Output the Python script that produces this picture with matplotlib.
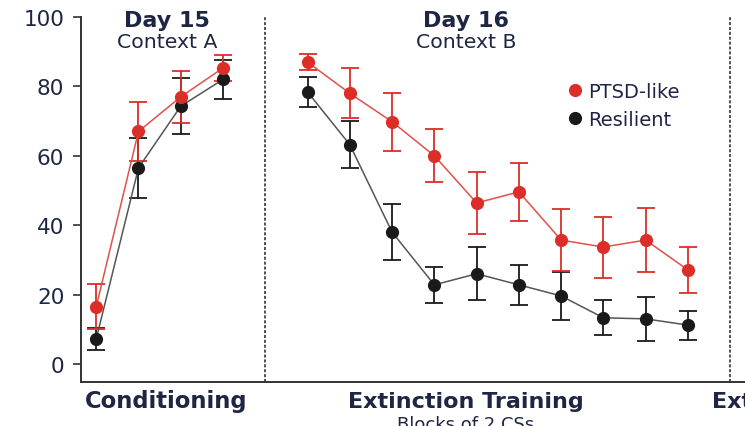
"""Freezing across conditioning (Day 15) and extinction training (Day 16)."""
import matplotlib
matplotlib.use("Agg")
import matplotlib.pyplot as plt
from matplotlib.lines import Line2D

plt.rcParams.update({
    "font.family": ["DejaVu Sans"],
    "axes.spines.top": False, "axes.spines.right": False,
})

# ---- data ----
cond_x = [0, 1, 2, 3]
ext_x = [5, 6, 7, 8, 9, 10, 11, 12, 13, 14]

ptsd_cond = [16.5, 67, 77, 85.3]
ptsd_cond_err = [6.5, 8.5, 7.5, 3.8]
ptsd_ext = [87, 78, 69.8, 60, 46.4, 49.6, 35.7, 33.7, 35.7, 27.1]
ptsd_ext_err = [2.3, 7.2, 8.3, 7.6, 9.0, 8.4, 8.9, 8.8, 9.2, 6.6]

res_cond = [7.2, 56.5, 74.3, 82]
res_cond_err = [3.2, 8.6, 8.0, 5.6]
res_ext = [78.4, 63.2, 38, 22.8, 26, 22.8, 19.6, 13.3, 13, 11.2]
res_ext_err = [4.3, 6.8, 8.0, 5.2, 7.6, 5.7, 6.8, 5.0, 6.3, 4.2]

yticks = [0, 20, 40, 60, 80, 100]

RED = "#dc2e28"
RED_LINE = "#e2504a"
BLACK = "#1a1a1a"
GRAY_LINE = "#555555"
TXT = "#1e2644"

fig = plt.figure(figsize=(7.45, 4.27), dpi=100)
ax = fig.add_axes([81 / 745, 44 / 427, 1 - 81 / 745, (383 - 18) / 427])


def draw(x, y, err, mcol, lcol):
    ax.errorbar(x, y, yerr=err, fmt="none", ecolor=mcol, elinewidth=1.3,
                capsize=6.5, capthick=1.3, zorder=2)
    ax.plot(x, y, "-", color=lcol, linewidth=1.1, zorder=3)
    ax.plot(x, y, "o", color=mcol, markersize=9.5, markeredgewidth=0, zorder=4)


draw(cond_x, res_cond, res_cond_err, BLACK, GRAY_LINE)
draw(cond_x, ptsd_cond, ptsd_cond_err, RED, RED_LINE)
draw(ext_x, res_ext, res_ext_err, BLACK, GRAY_LINE)
draw(ext_x, ptsd_ext, ptsd_ext_err, RED, RED_LINE)

for xv in (4, 15):
    ax.axvline(xv, color="#222222", linestyle=(0, (2, 1.2)), linewidth=1.1, zorder=1)

ax.set_xlim(-0.36, 15.35)
ax.set_ylim(-5.2, 100)
ax.set_yticks(yticks)
ax.set_xticks([])
ax.tick_params(axis="y", length=6, width=1.2, color="#333333", labelsize=15.5,
               labelcolor=TXT, pad=6)
for s in ("left", "bottom"):
    ax.spines[s].set_linewidth(1.4)
    ax.spines[s].set_color("#333333")

# headers
ax.text(1.68, 99.2, "Day 15", ha="center", va="center", fontsize=16,
        fontweight="bold", color=TXT, clip_on=False)
ax.text(1.68, 92.8, "Context A", ha="center", va="center", fontsize=14.7,
        color=TXT, clip_on=False)
ax.text(8.75, 99.2, "Day 16", ha="center", va="center", fontsize=16,
        fontweight="bold", color=TXT, clip_on=False)
ax.text(8.75, 92.8, "Context B", ha="center", va="center", fontsize=14.7,
        color=TXT, clip_on=False)

# legend
handles = [
    Line2D([], [], marker="o", linestyle="none", color=RED, markersize=9.5, markeredgewidth=0),
    Line2D([], [], marker="o", linestyle="none", color=BLACK, markersize=9.5, markeredgewidth=0),
]
leg = ax.legend(handles, ["PTSD-like", "Resilient"], loc="upper left",
                bbox_to_anchor=(0.703, 0.87), frameon=False, fontsize=14,
                handletextpad=0.15, labelspacing=0.45, handlelength=1.0)
for t in leg.get_texts():
    t.set_color(TXT)

# bottom labels
fig.text(166 / 745, 1 - 402 / 427, "Conditioning", ha="center", va="center",
         fontsize=16.3, fontweight="bold", color=TXT)
fig.text(466 / 745, 1 - 402 / 427, "Extinction Training", ha="center", va="center",
         fontsize=16, fontweight="bold", color=TXT)
fig.text(712 / 745, 1 - 402 / 427, "Extinction Recall", ha="left", va="center",
         fontsize=16, fontweight="bold", color=TXT)
fig.text(466 / 745, 1 - 416 / 427, "Blocks of 2 CSs", ha="center", va="top",
         fontsize=13, color=TXT)

fig.savefig("out.png", dpi=100, facecolor="white")
